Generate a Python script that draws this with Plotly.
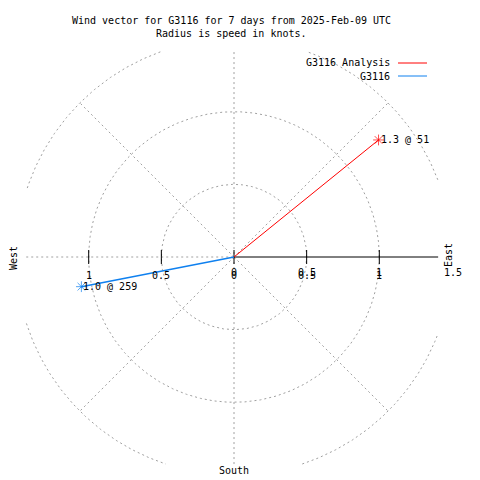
import numpy as np
import plotly.graph_objects as go

# ---------------- data ----------------
series_names = ["G3116 Analysis", "G3116"]
speeds = [1.28, 1.07]            # knots (radius)
directions = [51, 259]           # degrees clockwise from north
point_labels = ["1.3 @ 51", "1.0 @ 259"]
series_colors = ["#ff0000", "#0f80ef"]
series_widths = [1, 1.6]

grid_radii = [0.5, 1.0, 1.5]
spoke_angles = [45, 135, 225, 315]
xtick_vals = [-1, -0.5, 0, 0.5, 1]
xtick_text = ["1", "0.5", "0", "0.5", "1"]
rtick_vals = [0, 0.5, 1, 1.5]
rtick_text = ["0", "0.5", "1", "1.5"]
title_lines = ["Wind vector for G3116 for 7 days from 2025-Feb-09 UTC",
               "Radius is speed in knots."]

# ---------------- layout geometry ----------------
OFF = 8                   # page body margin of the html page
W = H = 480 - OFF
# plot area in window pixels
PX0, PX1, PY0, PY1 = 16, 460, 40, 475
ML, MR, MT, MB = PX0 - OFF, (W + OFF) - PX1, PY0 - OFF, (H + OFF) - PY1
S = 145.3                 # pixels per knot
CXP, CYP = 234, 257       # window pixel of the origin
XR = [(PX0 - CXP) / S, (PX1 - CXP) / S]
YR = [(CYP - PY1) / S, (CYP - PY0) / S]
CLX0, CLX1, CLY0, CLY1 = -1.43, 1.405, -1.425, 1.413   # border clip box
PW, PH = PX1 - PX0, PY1 - PY0

def dx(px):
    return (px - CXP) / S

def dy(py):
    return (CYP - py) / S

def pxp(px):
    return (px - PX0) / PW

def pyp(py):
    return (PY1 - py) / PH

FONT = dict(family="DejaVu Sans Mono", size=10, color="black")
GRID = dict(color="#a0a0a0", width=1, dash="2px,3px")

fig = go.Figure()

# grid circles (clipped to border box)
th = np.linspace(0, 2 * np.pi, 1441)
for r in grid_radii:
    xs, ys = [], []
    for t in th:
        x, y = r * np.cos(t), r * np.sin(t)
        if CLX0 <= x <= CLX1 and CLY0 <= y <= CLY1:
            xs.append(float(x)); ys.append(float(y))
        else:
            xs.append(None); ys.append(None)
    fig.add_trace(go.Scatter(x=xs, y=ys, mode="lines", line=GRID,
                             hoverinfo="skip", connectgaps=False))

# spokes
for a in spoke_angles:
    rr = grid_radii[-1]
    fig.add_trace(go.Scatter(x=[0, rr * np.sin(np.radians(a))],
                             y=[0, rr * np.cos(np.radians(a))],
                             mode="lines", line=GRID, hoverinfo="skip"))
fig.add_trace(go.Scatter(x=[0, 0], y=[CLY0, CLY1], mode="lines", line=GRID,
                         hoverinfo="skip"))
fig.add_trace(go.Scatter(x=[CLX0, 0], y=[0, 0], mode="lines", line=GRID,
                         hoverinfo="skip"))
# solid radial axis to the east
fig.add_trace(go.Scatter(x=[0, CLX1], y=[0, 0], mode="lines",
                         line=dict(color="black", width=1), hoverinfo="skip"))
# tick marks
fig.add_trace(go.Scatter(x=xtick_vals, y=[0] * len(xtick_vals), mode="markers",
                         marker=dict(symbol="line-ns-open", size=10,
                                     color="black",
                                     line=dict(color="black", width=1)),
                         hoverinfo="skip"))

# wind vectors
for name, s, d, col, w in zip(series_names, speeds, directions,
                              series_colors, series_widths):
    ex = s * np.sin(np.radians(d))
    ey = s * np.cos(np.radians(d))
    fig.add_trace(go.Scatter(x=[0, ex], y=[0, ey], mode="lines+markers",
                             name=name, line=dict(color=col, width=w),
                             marker=dict(symbol="asterisk-open", size=[0, 9],
                                         color=col,
                                         line=dict(color=col, width=1)),
                             hoverinfo="skip"))

ann = []
for s, d, lab in zip(speeds, directions, point_labels):
    ex = s * np.sin(np.radians(d))
    ey = s * np.cos(np.radians(d))
    ann.append(dict(x=ex, y=ey, text=lab, showarrow=False, xanchor="left",
                    yanchor="middle", xshift=0, font=FONT))

for v, t in zip(xtick_vals, xtick_text):
    ann.append(dict(x=v, y=0, text=t, showarrow=False, xanchor="center",
                    yanchor="middle", yshift=-18, font=FONT))
for v, t in zip(rtick_vals, rtick_text):
    ann.append(dict(x=v, y=0, text=t, showarrow=False, xanchor="center",
                    yanchor="middle", yshift=-15, xshift=1 if v == 1.5 else 0,
                    font=FONT))

# compass labels (paper coordinates so they are never hidden)
ann.append(dict(xref="paper", yref="paper", x=pxp(14), y=pyp(258),
                text="West", textangle=-90, showarrow=False,
                xanchor="center", yanchor="middle", font=FONT))
ann.append(dict(xref="paper", yref="paper", x=pxp(449), y=pyp(255),
                text="East", textangle=-90, showarrow=False,
                xanchor="center", yanchor="middle", font=FONT))
ann.append(dict(xref="paper", yref="paper", x=pxp(CXP), y=pyp(470),
                text="South", showarrow=False,
                xanchor="center", yanchor="middle", font=FONT))

# title
for i, line in enumerate(title_lines):
    ann.append(dict(xref="paper", yref="paper", x=pxp(231.5), y=pyp(20 + 13 * i),
                    text=line, showarrow=False, xanchor="center",
                    yanchor="middle", font=FONT))

# legend (text right, sample line to the right)
shapes = []
for i, (name, col) in enumerate(zip(series_names, series_colors)):
    py = 63 + 13 * i
    ann.append(dict(xref="paper", yref="paper", x=pxp(392), y=pyp(py),
                    text=name, showarrow=False, xanchor="right",
                    yanchor="middle", font=FONT))
    shapes.append(dict(type="line", xref="paper", yref="paper",
                       x0=pxp(398), x1=pxp(427), y0=pyp(py), y1=pyp(py),
                       line=dict(color=col, width=1)))

fig.update_layout(
    width=W, height=H,
    margin=dict(l=ML, r=MR, t=MT, b=MB, pad=0),
    paper_bgcolor="white", plot_bgcolor="white",
    showlegend=False, hovermode=False,
    xaxis=dict(range=XR, visible=False, fixedrange=True),
    yaxis=dict(range=YR, visible=False, fixedrange=True),
    annotations=ann, shapes=shapes,
    font=FONT,
)

fig.write_html("out.html")
